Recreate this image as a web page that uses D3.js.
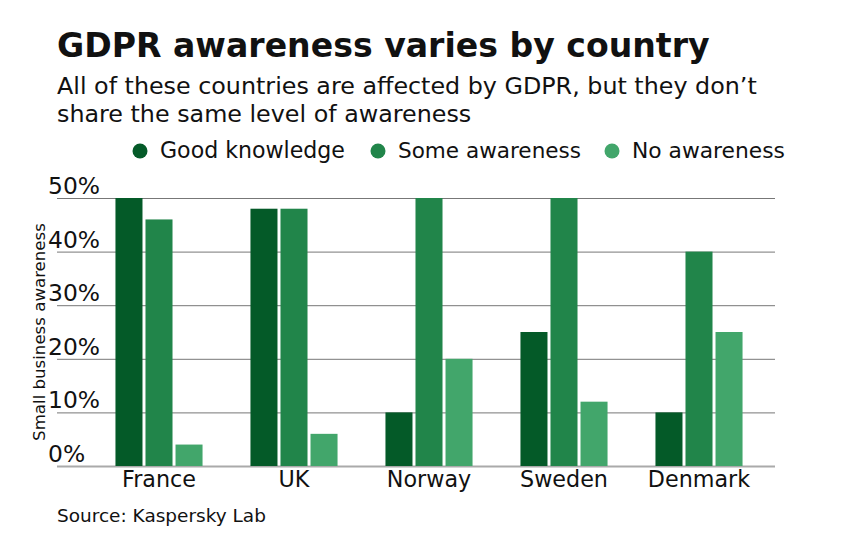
<!DOCTYPE html>
<html>
<head>
<meta charset="utf-8">
<script src="https://cdn.jsdelivr.net/npm/d3@7"></script>
<style>
  body { margin: 0; background: #fff; }
  svg { display: block; font-family: "DejaVu Sans", "Noto Sans", sans-serif; }
</style>
</head>
<body>
<svg id="chart" width="844" height="550"></svg>
<script>
// Data
const countries = ["France", "UK", "Norway", "Sweden", "Denmark"];
const seriesNames = ["Good knowledge", "Some awareness", "No awareness"];
const goodKnowledge = [50, 48, 10, 25, 10];
const someAwareness = [46, 48, 50, 50, 40];
const noAwareness = [4, 6, 20, 12, 25];
const yTicks = [0, 10, 20, 30, 40, 50];
const colors = ["#045a28", "#21854a", "#42a66b"];

const svg = d3.select("#chart");
const plot = { left: 57, right: 775, top: 198, bottom: 466 };

// shrink/grow a text's font size until it spans roughly `target` px
function fitWidth(sel, target) {
    const node = sel.node();
    const size = +sel.attr("font-size");
    const w = node.getComputedTextLength();
    sel.attr("font-size", (size * target / w).toFixed(2));
    return sel;
}

// Title block
const title = svg.append("text")
    .attr("x", 57).attr("y", 57)
    .attr("font-size", 34).attr("font-weight", "bold").attr("fill", "#111")
    .text("GDPR awareness varies by country");
fitWidth(title, 653);

const sub1 = svg.append("text")
    .attr("x", 57).attr("y", 94)
    .attr("font-size", 22).attr("fill", "#111")
    .text("All of these countries are affected by GDPR, but they don’t");
fitWidth(sub1, 700);
svg.append("text")
    .attr("x", 57).attr("y", 122)
    .attr("font-size", sub1.attr("font-size")).attr("fill", "#111")
    .text("share the same level of awareness");

// Legend
const legendX = [140, 378, 612];
const legendW = [185, 183, 153];
seriesNames.forEach((name, i) => {
    const g = svg.append("g").attr("transform", `translate(${legendX[i]},151)`);
    g.append("circle").attr("r", 7.5).attr("fill", colors[i]);
    const t = g.append("text").attr("x", 20).attr("y", 6.5)
        .attr("font-size", 22).attr("fill", "#111")
        .text(name);
    fitWidth(t, legendW[i]);
});

// Scales
const y = d3.scaleLinear().domain([0, 50]).range([plot.bottom, plot.top]);

const x0 = d3.scaleBand()
    .domain(countries)
    .range([91.5, 766.5])
    .paddingInner(0.355)
    .paddingOuter(0.1775);

const x1 = d3.scaleBand()
    .domain(seriesNames)
    .range([0, x0.bandwidth()])
    .paddingInner(0.1);

// Gridlines
svg.append("g")
    .selectAll("line")
    .data(yTicks)
    .join("line")
    .attr("x1", plot.left).attr("x2", plot.right)
    .attr("y1", d => y(d) + 0.5).attr("y2", d => y(d) + 0.5)
    .attr("stroke", d => d === 0 ? "#aaa" : "#777")
    .attr("stroke-width", d => d === 0 ? 2 : 1);

// Y tick labels, sitting above each gridline
const tickLabels = svg.append("g")
    .selectAll("text")
    .data(yTicks)
    .join("text")
    .attr("x", 48)
    .attr("y", d => y(d) - 4)
    .attr("font-size", 20).attr("fill", "#111")
    .text(d => d + "%");
const tickW = tickLabels.filter(d => d === 50).node().getComputedTextLength();
tickLabels.attr("font-size", (20 * 52 / tickW).toFixed(2));

// Y axis title
const yTitle = svg.append("text")
    .attr("transform", "translate(45,332) rotate(-90)")
    .attr("text-anchor", "middle")
    .attr("font-size", 15).attr("fill", "#111")
    .text("Small business awareness");
fitWidth(yTitle, 218);

// Bars
const series = [goodKnowledge, someAwareness, noAwareness];
const rows = countries.map((c, i) => ({
    country: c,
    values: seriesNames.map((s, j) => ({ key: s, value: series[j][i], color: colors[j] }))
}));

svg.append("g")
    .selectAll("g")
    .data(rows)
    .join("g")
    .attr("transform", d => `translate(${x0(d.country)},0)`)
    .selectAll("rect")
    .data(d => d.values)
    .join("rect")
    .attr("x", d => x1(d.key))
    .attr("y", d => y(d.value))
    .attr("width", x1.bandwidth())
    .attr("height", d => y(0) - y(d.value))
    .attr("fill", d => d.color);

// X axis labels
const xLabels = svg.append("g")
    .selectAll("text")
    .data(countries)
    .join("text")
    .attr("x", d => x0(d) + x0.bandwidth() / 2)
    .attr("y", 487)
    .attr("text-anchor", "middle")
    .attr("font-size", 20).attr("fill", "#111")
    .text(d => d);
const franceW = xLabels.filter(d => d === "France").node().getComputedTextLength();
xLabels.attr("font-size", (20 * 74 / franceW).toFixed(2));

// Source
const source = svg.append("text")
    .attr("x", 57).attr("y", 522)
    .attr("font-size", 16).attr("fill", "#111")
    .text("Source: Kaspersky Lab");
fitWidth(source, 209);
</script>
</body>
</html>
